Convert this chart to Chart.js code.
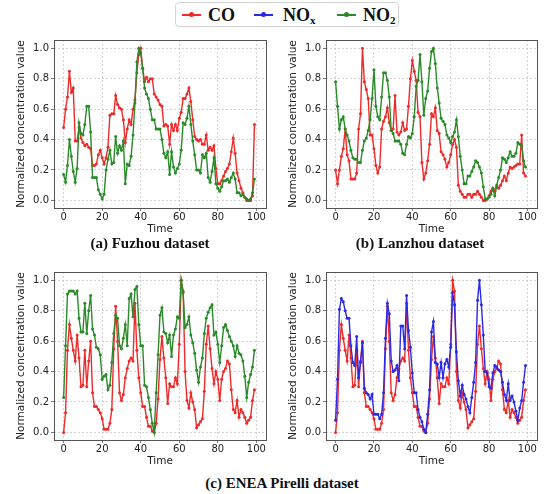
<!DOCTYPE html>
<html>
<head>
<meta charset="utf-8">
<script src="https://cdn.jsdelivr.net/npm/chart.js@4/dist/chart.umd.min.js"></script>
<style>
  body { margin: 0; background: #fff; }
  #wrap { position: relative; width: 551px; height: 494px; overflow: hidden; }
  canvas { position: absolute; }
  .cap { position: absolute; font-family: "Liberation Serif", serif; font-weight: bold; font-size: 15px; white-space: nowrap; transform: translate(-50%, -50%); color: #111; }
  #legend { position: absolute; left: 175px; top: 2px; width: 224px; height: 25px; border: 1px solid #d4d4d4; border-radius: 4px; box-sizing: border-box; }
  .item { position: absolute; top: 0; height: 24px; line-height: 24px; font-family: "Liberation Serif", serif; font-weight: bold; font-size: 18px; color: #111; }
  .sw { position: absolute; top: 11px; height: 2px; width: 19px; }
  .sw::after { content: ""; position: absolute; left: 7px; top: -2px; width: 5px; height: 5px; border-radius: 50%; background: inherit; }
  sub { font-size: 11px; vertical-align: -3px; }
</style>
</head>
<body>
<div id="wrap">
  <div id="legend">
    <span class="sw" style="left:6px;background:#ee2a2a"></span><span class="item" style="left:32px">CO</span>
    <span class="sw" style="left:78px;background:#2a2ae6"></span><span class="item" style="left:107px">NO<sub>x</sub></span>
    <span class="sw" style="left:161px;background:#2a8a2a"></span><span class="item" style="left:187px">NO<sub>2</sub></span>
  </div>
  <canvas id="cA" width="270" height="212" style="left:0;top:30px"></canvas>
  <canvas id="cB" width="270" height="212" style="left:272px;top:30px"></canvas>
  <canvas id="cC" width="270" height="212" style="left:0;top:262px"></canvas>
  <canvas id="cD" width="270" height="212" style="left:272px;top:262px"></canvas>
  <div class="cap" style="left:150px;top:243px">(a) Fuzhou dataset</div>
  <div class="cap" style="left:420px;top:243px">(b) Lanzhou dataset</div>
  <div class="cap" style="left:282px;top:483px">(c) ENEA Pirelli dataset</div>
</div>
<script>
// tick values
let xTicks = [0, 20, 40, 60, 80, 100];
let yTicks = [0.0, 0.2, 0.4, 0.6, 0.8, 1.0];

// (a) Fuzhou
let coFuzhou = [0.48,0.60,0.68,0.85,0.71,0.74,0.39,0.39,0.48,0.41,
  0.38,0.36,0.37,0.35,0.34,0.23,0.23,0.24,0.30,0.33,
  0.28,0.24,0.28,0.35,0.56,0.57,0.57,0.69,0.63,0.61,
  0.60,0.53,0.38,0.47,0.53,0.50,0.60,0.66,0.84,0.96,
  1.00,0.87,0.78,0.81,0.78,0.80,0.80,0.70,0.68,0.66,
  0.63,0.62,0.49,0.50,0.49,0.37,0.50,0.46,0.50,0.46,
  0.54,0.58,0.67,0.67,0.70,0.74,0.65,0.53,0.42,0.40,
  0.39,0.40,0.37,0.37,0.43,0.33,0.35,0.33,0.36,0.21,
  0.11,0.11,0.13,0.16,0.19,0.21,0.24,0.32,0.41,0.31,
  0.18,0.13,0.08,0.05,0.02,0.00,0.00,0.00,0.03,0.50];
let no2Fuzhou = [0.17,0.12,0.23,0.40,0.29,0.19,0.12,0.21,0.51,0.44,
  0.43,0.50,0.62,0.62,0.45,0.15,0.15,0.15,0.07,0.04,
  0.01,0.04,0.20,0.27,0.33,0.24,0.25,0.42,0.31,0.36,
  0.33,0.39,0.11,0.24,0.23,0.29,0.43,0.64,0.91,1.00,
  0.97,0.87,0.74,0.70,0.67,0.60,0.53,0.53,0.47,0.47,
  0.47,0.40,0.31,0.28,0.32,0.17,0.32,0.22,0.18,0.21,
  0.24,0.33,0.51,0.50,0.54,0.62,0.50,0.39,0.30,0.20,
  0.20,0.18,0.30,0.28,0.31,0.15,0.12,0.19,0.28,0.11,
  0.08,0.06,0.09,0.13,0.13,0.14,0.12,0.15,0.18,0.14,
  0.05,0.05,0.03,0.04,0.02,0.01,0.00,0.01,0.05,0.14];

// (b) Lanzhou
let coLanzhou = [0.20,0.11,0.20,0.29,0.34,0.47,0.30,0.26,0.14,0.14,
  0.14,0.18,0.47,0.57,1.00,0.78,0.73,0.67,0.43,0.43,
  0.34,0.23,0.18,0.22,0.47,0.52,0.55,0.61,0.51,0.46,
  0.47,0.69,0.45,0.43,0.45,0.51,0.46,0.47,0.62,0.80,
  0.92,0.85,0.79,0.58,0.55,0.25,0.14,0.18,0.26,0.37,
  0.57,0.55,0.61,0.46,0.44,0.32,0.30,0.27,0.22,0.25,
  0.30,0.37,0.40,0.35,0.10,0.06,0.04,0.02,0.02,0.04,
  0.04,0.02,0.04,0.04,0.06,0.04,0.02,0.00,0.00,0.01,
  0.03,0.06,0.08,0.06,0.09,0.08,0.10,0.13,0.16,0.13,
  0.18,0.22,0.21,0.22,0.23,0.24,0.24,0.43,0.18,0.16];
let no2Lanzhou = [0.78,0.62,0.47,0.53,0.55,0.47,0.43,0.39,0.33,0.28,
  0.27,0.27,0.25,0.25,0.33,0.39,0.41,0.46,0.53,0.67,
  0.86,0.62,0.55,0.53,0.68,0.84,0.84,0.79,0.68,0.46,
  0.44,0.39,0.39,0.39,0.37,0.31,0.30,0.37,0.42,0.41,
  0.44,0.55,0.75,0.79,0.96,0.78,0.56,0.67,0.72,0.87,
  0.98,1.00,0.90,0.74,0.64,0.54,0.52,0.50,0.43,0.41,
  0.38,0.42,0.45,0.53,0.42,0.29,0.20,0.11,0.11,0.16,
  0.16,0.19,0.22,0.26,0.25,0.22,0.18,0.09,0.01,0.01,
  0.02,0.04,0.08,0.03,0.10,0.15,0.20,0.28,0.27,0.25,
  0.28,0.32,0.29,0.29,0.31,0.38,0.37,0.36,0.26,0.22];

// (c)/(d) ENEA Pirelli
let coEnea = [0.00,0.13,0.54,0.71,0.62,0.54,0.47,0.64,0.49,0.30,
  0.31,0.54,0.30,0.47,0.60,0.26,0.17,0.17,0.15,0.13,
  0.09,0.02,0.02,0.02,0.06,0.15,0.55,0.83,0.60,0.26,
  0.21,0.25,0.36,0.42,0.47,0.49,0.47,0.85,0.54,0.36,
  0.26,0.17,0.17,0.10,0.04,0.04,0.01,0.00,0.06,0.22,
  0.48,0.63,0.49,0.36,0.19,0.32,0.30,0.30,0.36,0.32,
  0.58,1.00,0.93,0.40,0.21,0.16,0.26,0.20,0.15,0.03,
  0.05,0.07,0.09,0.27,0.58,0.70,0.55,0.42,0.32,0.40,
  0.35,0.21,0.35,0.40,0.42,0.47,0.45,0.28,0.15,0.13,
  0.21,0.10,0.15,0.13,0.10,0.06,0.08,0.10,0.21,0.28];
let no2Enea = [0.23,0.57,0.91,0.93,0.93,0.93,0.91,0.93,0.75,0.66,
  0.66,0.85,0.65,0.80,0.90,0.68,0.64,0.56,0.55,0.51,
  0.35,0.37,0.38,0.28,0.31,0.46,0.65,0.77,0.75,0.57,
  0.55,0.62,0.71,0.57,0.88,0.91,0.76,0.94,0.96,0.71,
  0.57,0.57,0.31,0.30,0.23,0.15,0.06,0.00,0.26,0.51,
  0.77,0.82,0.66,0.65,0.59,0.64,0.50,0.64,0.68,0.76,
  0.75,1.00,0.92,0.69,0.71,0.76,0.64,0.59,0.52,0.41,
  0.33,0.43,0.49,0.65,0.75,0.79,0.82,0.84,0.64,0.66,
  0.58,0.46,0.57,0.69,0.71,0.67,0.63,0.60,0.57,0.50,
  0.57,0.52,0.51,0.47,0.37,0.23,0.33,0.38,0.43,0.54];
let noxEnea = [0.08,0.35,0.81,0.88,0.86,0.80,0.75,0.75,0.57,0.46,
  0.44,0.63,0.36,0.46,0.59,0.29,0.26,0.25,0.22,0.25,
  0.12,0.12,0.12,0.09,0.12,0.26,0.62,0.85,0.78,0.47,
  0.40,0.41,0.44,0.34,0.70,0.70,0.55,0.90,0.67,0.56,
  0.39,0.26,0.26,0.15,0.10,0.07,0.02,0.00,0.12,0.28,
  0.66,0.73,0.46,0.45,0.36,0.46,0.36,0.45,0.48,0.43,
  0.56,0.92,0.84,0.53,0.34,0.24,0.31,0.25,0.22,0.17,
  0.13,0.23,0.33,0.46,0.87,1.00,0.84,0.64,0.40,0.39,
  0.30,0.29,0.39,0.44,0.43,0.41,0.40,0.33,0.25,0.21,
  0.32,0.21,0.24,0.20,0.14,0.08,0.16,0.21,0.33,0.44];

let red = '#ee2a2a', blue = '#2a2ae6', green = '#2a8a2a';

let serie = (values, color) => ({
  data: values.map((v, i) => ({x: i, y: v})),
  borderColor: color,
  backgroundColor: color,
  borderWidth: 1.4,
  pointRadius: 1.5,
  pointBorderWidth: 0,
  tension: 0
});

// closes the box around the plot like matplotlib
let framePlugin = {
  id: 'frame',
  afterDraw(chart) {
    let a = chart.chartArea, c = chart.ctx;
    c.save();
    c.strokeStyle = '#555';
    c.lineWidth = 1;
    c.strokeRect(Math.round(a.left) + 0.5, Math.round(a.top) + 0.5, Math.round(a.right - a.left), Math.round(a.bottom - a.top));
    c.restore();
  }
};

let tickFont = {family: 'DejaVu Sans', size: 10};
let titleFont = {family: 'DejaVu Sans', size: 10.5};

let dibujarPanel = (id, datasets, rightPad) => {
  new Chart(document.getElementById(id), {
    type: 'line',
    data: {datasets: datasets},
    plugins: [framePlugin],
    options: {
      responsive: false,
      animation: false,
      layout: {padding: {top: 10, right: rightPad, bottom: 0, left: 0}},
      plugins: {legend: {display: false}, tooltip: {enabled: false}},
      scales: {
        x: {
          type: 'linear', min: -5, max: 105,
          afterBuildTicks: s => { s.ticks = xTicks.map(v => ({value: v})); },
          afterFit: s => { s.height = 34; },
          ticks: {font: tickFont, color: '#222', padding: 0, maxRotation: 0},
          grid: {color: '#c8c8c8', lineWidth: 0.8, tickLength: 3, tickColor: '#555'},
          border: {display: false, dash: [2, 2]},
          title: {display: true, text: 'Time', font: titleFont, color: '#222', padding: {top: 0, bottom: 6}}
        },
        y: {
          min: -0.05, max: 1.055,
          afterBuildTicks: s => { s.ticks = yTicks.map(v => ({value: v})); },
          afterFit: s => { s.width = 54; },
          ticks: {font: tickFont, color: '#222', padding: 2, callback: v => v.toFixed(1)},
          grid: {color: '#c8c8c8', lineWidth: 0.8, tickLength: 3, tickColor: '#555'},
          border: {display: false, dash: [2, 2]},
          title: {display: true, text: 'Normalized concentration value', font: titleFont, color: '#222', padding: {top: 15, bottom: 0}}
        }
      }
    }
  });
};

// CO drawn underneath the other gas
let conOrden = (lista) => lista.map((d, i) => Object.assign(d, {order: lista.length - i}));

dibujarPanel('cA', conOrden([serie(coFuzhou, red), serie(no2Fuzhou, green)]), 4);
dibujarPanel('cB', conOrden([serie(coLanzhou, red), serie(no2Lanzhou, green)]), 5);
dibujarPanel('cC', conOrden([serie(coEnea, red), serie(no2Enea, green)]), 4);
dibujarPanel('cD', conOrden([serie(coEnea, red), serie(noxEnea, blue)]), 5);
</script>
</body>
</html>
